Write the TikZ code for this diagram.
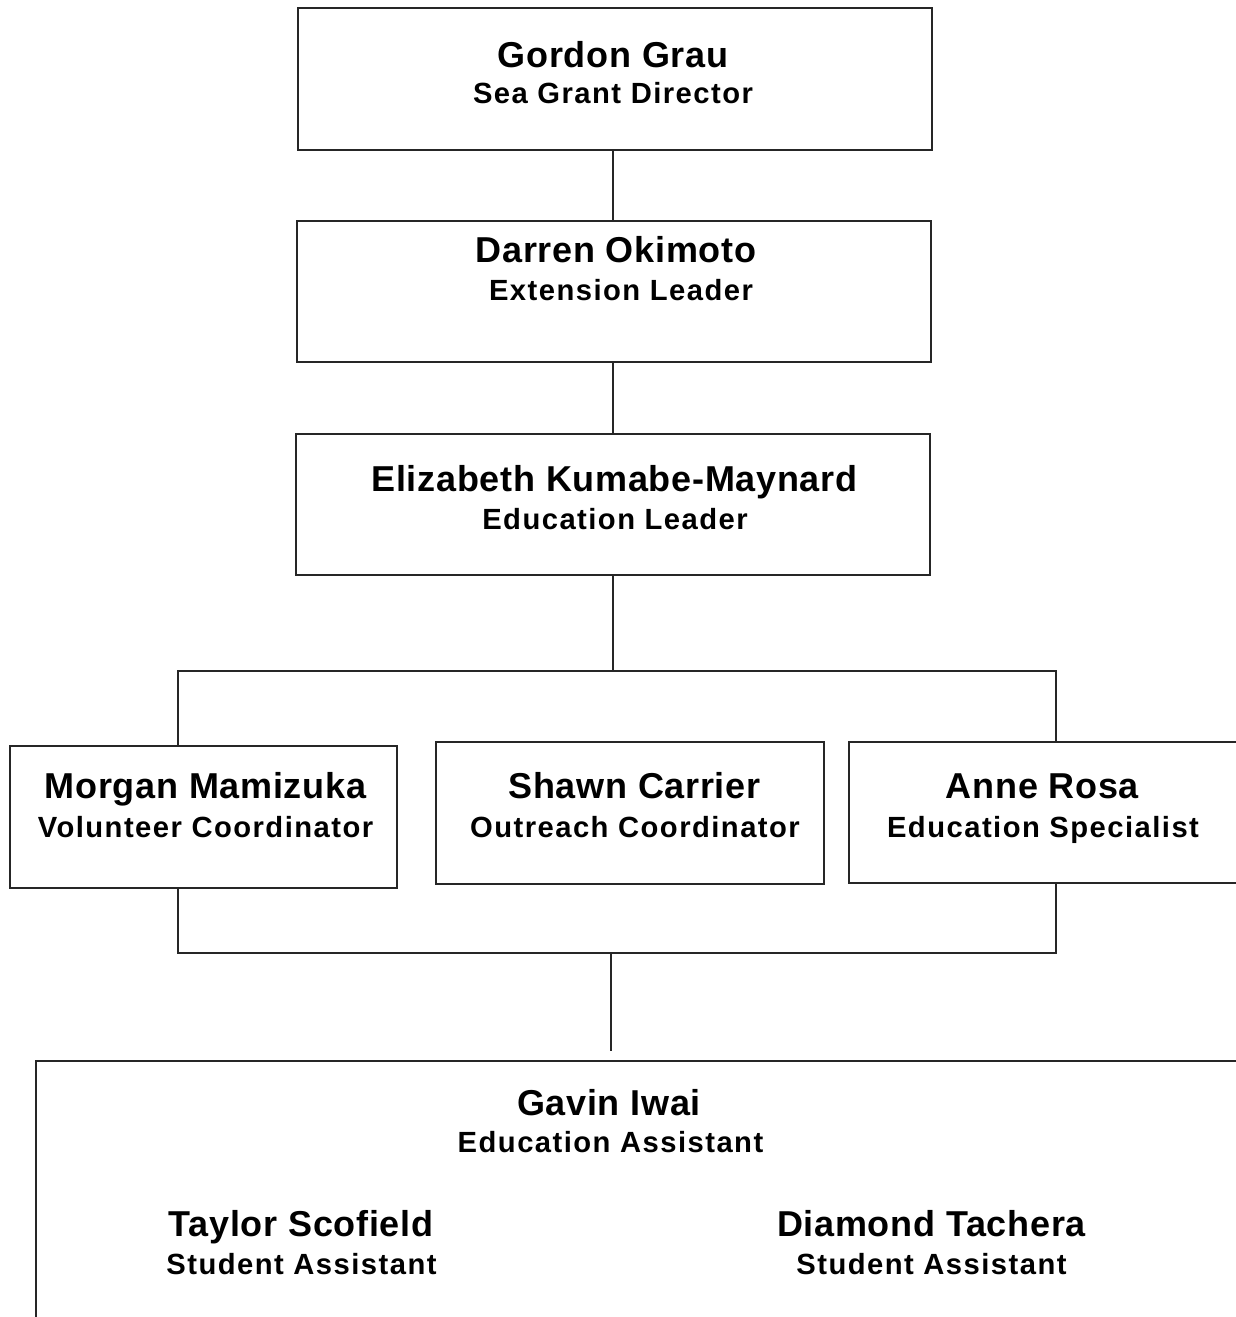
\documentclass[tikz,border=0pt]{standalone}
\usepackage{fontspec}
\setmainfont{Liberation Sans}
\newfontfamily\nmfont[LetterSpace=2]{Liberation Sans}
\newfontfamily\tlfont[LetterSpace=5]{Liberation Sans}
\usetikzlibrary{fit}
\begin{document}
\begin{tikzpicture}[x=0.5pt,y=-0.5pt,
  box/.style={draw=black!85,line width=1pt,inner sep=0pt,fill=none},
  wire/.style={draw=black!85,line width=1pt},
  nm/.style={anchor=base,inner sep=0pt,font=\nmfont\fontsize{18}{20}\selectfont\bfseries},
  tl/.style={anchor=base,inner sep=0pt,font=\tlfont\fontsize{14.6}{17}\selectfont\bfseries}]
\useasboundingbox (0,0) rectangle (1236,1317);
% boxes
\node[box,fit={(298,8) (932,150)}] (b1) {};
\node[box,fit={(297,221) (931,362)}] (b2) {};
\node[box,fit={(296,434) (930,575)}] (b3) {};
\node[box,fit={(10,746) (397,888)}] (b4) {};
\node[box,fit={(436,742) (824,884)}] (b5) {};
\node[box,fit={(849,742) (1250,883)}] (b6) {};
\node[box,fit={(36,1061) (1260,1340)}] (b7) {};
% texts
\node[nm] (t1a) at (613,67) {Gordon Grau};
\node[tl] (t1b) at (613,103) {Sea Grant Director};
\node[nm] (t2a) at (616,262.5) {Darren Okimoto};
\node[tl] (t2b) at (621,300.5) {Extension Leader};
\node[nm] (t3a) at (614.5,491.5) {Elizabeth Kumabe-Maynard};
\node[tl] (t3b) at (615,529.5) {Education Leader};
\node[nm] (t4a) at (205.5,798) {Morgan Mamizuka};
\node[tl] (t4b) at (205.5,837) {Volunteer Coordinator};
\node[nm] (t5a) at (634.5,798) {Shawn Carrier};
\node[tl] (t5b) at (635,837) {Outreach Coordinator};
\node[nm] (t6a) at (1042.5,798) {Anne Rosa};
\node[tl] (t6b) at (1043,837) {Education Specialist};
\node[nm] (t7a) at (609,1115.5) {Gavin Iwai};
\node[tl] (t7b) at (610.5,1152.5) {Education Assistant};
\node[nm] (t8a) at (301,1236) {Taylor Scofield};
\node[tl] (t8b) at (301.5,1274) {Student Assistant};
\node[nm] (t9a) at (931.5,1236) {Diamond Tachera};
\node[tl] (t9b) at (931.5,1274) {Student Assistant};
% connector coordinates
\coordinate (c1) at (613,0);
\coordinate (ja) at (613,671);
\coordinate (la) at (178,671);
\coordinate (ra) at (1056,671);
\coordinate (lb) at (178,953);
\coordinate (rb) at (1056,953);
\coordinate (jb) at (611,953);
\coordinate (je) at (611,1051);
% connectors
\draw[wire] (c1 |- b1.south) -- (c1 |- b2.north);
\draw[wire] (c1 |- b2.south) -- (c1 |- b3.north);
\draw[wire] (c1 |- b3.south) -- (ja);
\draw[wire] (la |- b4.north) -- (la) -- (ra) -- (ra |- b6.north);
\draw[wire] (lb |- b4.south) -- (lb) -- (rb) -- (rb |- b6.south);
\draw[wire] (jb) -- (je);
\end{tikzpicture}
\end{document}
